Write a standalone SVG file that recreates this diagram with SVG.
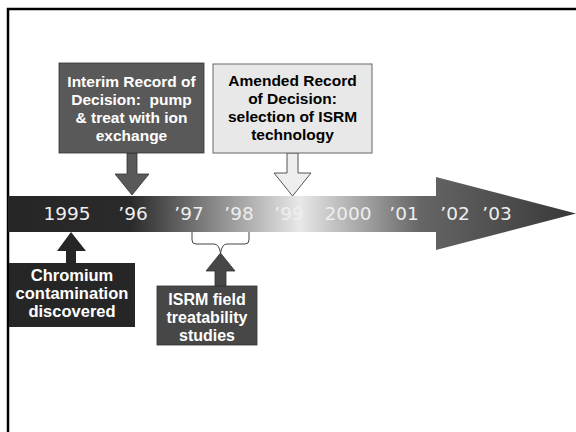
<svg xmlns="http://www.w3.org/2000/svg" width="576" height="432" viewBox="0 0 576 432">
<defs>
<linearGradient id="band" gradientUnits="userSpaceOnUse" x1="8" y1="0" x2="576" y2="0">
<stop offset="0" stop-color="#262626"/>
<stop offset="0.215" stop-color="#2a2a2a"/>
<stop offset="0.514" stop-color="#e8e8e8"/>
<stop offset="0.725" stop-color="#666666"/>
<stop offset="1" stop-color="#383838"/>
</linearGradient>
</defs>
<style>
.yr{font-family:"DejaVu Sans",sans-serif;font-size:18.5px;fill:#eeeeee;text-anchor:middle}
.bt{font-family:"Liberation Sans",Arial,sans-serif;font-weight:bold;font-size:15.5px;text-anchor:middle;white-space:pre}
.big{font-size:16.5px}
.mid{font-size:16px}
.w{fill:#ffffff}
.k{fill:#000000}
</style>
<rect width="576" height="432" fill="#ffffff"/>
<path d="M8,432 L8,9 L576,9" fill="none" stroke="#000" stroke-width="2.5"/>
<g id="timeline">
<path d="M8,196 L436,196 L436,177 L576,213.5 L436,250 L436,232 L8,232 Z" fill="url(#band)"/>
<text class="yr" x="67" y="220">1995</text>
<text class="yr" x="133" y="220">’96</text>
<text class="yr" x="189" y="220">’97</text>
<text class="yr" x="239" y="220">’98</text>
<text class="yr" x="289" y="220">’99</text>
<text class="yr" x="348" y="220">2000</text>
<text class="yr" x="404" y="220">’01</text>
<text class="yr" x="455" y="220">’02</text>
<text class="yr" x="497" y="220">’03</text>
</g>
<g id="connectors">
<polygon points="127,153 137,153 137,174 149,174 132,195 115,174 127,174" fill="#595959" stroke="#333" stroke-width="0.8"/>
<polygon points="287,153 298,153 298,173 311,173 292.5,196 274,173 287,173" fill="#eeeeee" stroke="#555" stroke-width="1"/>
<polygon points="71,232 86,251 76,251 76,263 66,263 66,251 57,251" fill="#262626"/>
<polygon points="220.5,253 235,271 226,271 226,286 215,286 215,271 206,271" fill="#474747" stroke="#333" stroke-width="0.8"/>
<path d="M192,232 L192,240 Q192,244 196,244 L214,244 Q219,244 220.5,253 Q222,244 227,244 L245,244 Q249,244 249,240 L249,232" fill="none" stroke="#444" stroke-width="1"/>
</g>
<g id="interim">
<rect x="59" y="63" width="145" height="90" fill="#595959" stroke="#333" stroke-width="0.8"/>
<text class="bt w" x="131.5" y="87">Interim Record of</text>
<text class="bt w" x="131.5" y="105">Decision:  pump</text>
<text class="bt w" x="131.5" y="123">&amp; treat with ion</text>
<text class="bt w" x="131.5" y="141">exchange</text>
</g>
<g id="amended">
<rect x="213" y="64" width="159" height="89" fill="#e8e8e8" stroke="#666" stroke-width="1"/>
<text class="bt k" x="292.5" y="86">Amended Record</text>
<text class="bt k" x="292.5" y="104">of Decision:</text>
<text class="bt k" x="292.5" y="122">selection of ISRM</text>
<text class="bt k" x="292.5" y="140">technology</text>
</g>
<g id="chromium">
<rect x="9" y="263" width="126" height="64" fill="#262626"/>
<text class="bt big w" x="72" y="281">Chromium</text>
<text class="bt big w" x="72" y="299">contamination</text>
<text class="bt big w" x="72" y="317">discovered</text>
</g>
<g id="isrm">
<rect x="157" y="286" width="100" height="59" fill="#474747" stroke="#333" stroke-width="0.8"/>
<text class="bt mid w" x="207" y="305">ISRM field</text>
<text class="bt mid w" x="207" y="323">treatability</text>
<text class="bt mid w" x="207" y="341">studies</text>
</g>
</svg>
